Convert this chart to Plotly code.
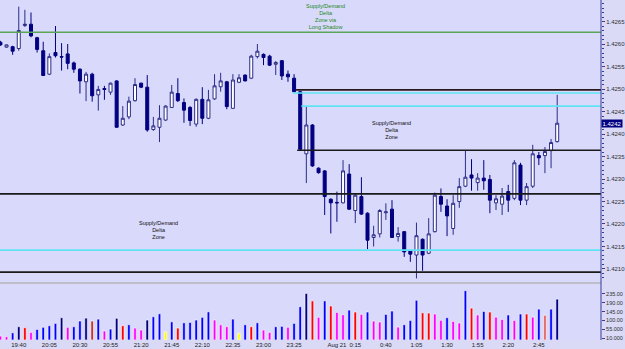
import pandas as pd
import plotly.graph_objects as go
from plotly.subplots import make_subplots

# ---- data ----
times = pd.date_range("2011-08-20 19:25", periods=92, freq="5min")

opens = [1.42604, 1.42593, 1.42594, 1.42590, 1.42641, 1.42644, 1.42614, 1.42585, 1.42533, 1.42581,
         1.42572, 1.42578, 1.42558, 1.42544, 1.42516, 1.42533, 1.42487, 1.42501, 1.42493, 1.42518,
         1.42420, 1.42438, 1.42474, 1.42513, 1.42504, 1.42410, 1.42415, 1.42431, 1.42459, 1.42490,
         1.42470, 1.42459, 1.42422, 1.42477, 1.42435, 1.42478, 1.42505, 1.42516, 1.42457, 1.42515,
         1.42531, 1.42524, 1.42572, 1.42577, 1.42573, 1.42555, 1.42563, 1.42533, 1.42524, 1.42494,
         1.42356, 1.42420, 1.42324, 1.42318, 1.42255, 1.42248, 1.42247, 1.42311, 1.42230, 1.42261,
         1.42224, 1.42170, 1.42178, 1.42225, 1.42233, 1.42172, 1.42183, 1.42141, 1.42131, 1.42166,
         1.42135, 1.42183, 1.42261, 1.42240, 1.42190, 1.42250, 1.42284, 1.42309, 1.42292, 1.42302,
         1.42299, 1.42247, 1.42244, 1.42272, 1.42257, 1.42331, 1.42253, 1.42284, 1.42352, 1.42352,
         1.42363, 1.42383]
highs = [1.42607, 1.42599, 1.42596, 1.42683, 1.42676, 1.42670, 1.42616, 1.42605, 1.42579, 1.42640,
         1.42602, 1.42600, 1.42561, 1.42546, 1.42538, 1.42536, 1.42507, 1.42507, 1.42514, 1.42519,
         1.42462, 1.42483, 1.42524, 1.42514, 1.42531, 1.42438, 1.42464, 1.42464, 1.42509, 1.42524,
         1.42479, 1.42462, 1.42479, 1.42504, 1.42498, 1.42533, 1.42536, 1.42518, 1.42533, 1.42533,
         1.42532, 1.42576, 1.42600, 1.42579, 1.42576, 1.42562, 1.42564, 1.42541, 1.42533, 1.42496,
         1.42462, 1.42422, 1.42326, 1.42320, 1.42257, 1.42272, 1.42342, 1.42333, 1.42267, 1.42304,
         1.42226, 1.42196, 1.42233, 1.42246, 1.42253, 1.42193, 1.42184, 1.42142, 1.42203, 1.42168,
         1.42213, 1.42270, 1.42279, 1.42255, 1.42264, 1.42302, 1.42364, 1.42344, 1.42313, 1.42342,
         1.42309, 1.42264, 1.42280, 1.42287, 1.42342, 1.42336, 1.42291, 1.42376, 1.42360, 1.42371,
         1.42389, 1.42487]
lows = [1.42596, 1.42592, 1.42576, 1.42585, 1.42638, 1.42615, 1.42581, 1.42529, 1.42531, 1.42570,
        1.42541, 1.42544, 1.42536, 1.42490, 1.42473, 1.42472, 1.42452, 1.42476, 1.42487, 1.42414,
        1.42418, 1.42433, 1.42472, 1.42502, 1.42405, 1.42407, 1.42382, 1.42429, 1.42458, 1.42471,
        1.42425, 1.42418, 1.42416, 1.42422, 1.42433, 1.42476, 1.42494, 1.42455, 1.42456, 1.42513,
        1.42517, 1.42522, 1.42568, 1.42553, 1.42551, 1.42531, 1.42520, 1.42516, 1.42493, 1.42364,
        1.42291, 1.42327, 1.42312, 1.42220, 1.42179, 1.42205, 1.42246, 1.42231, 1.42202, 1.42220,
        1.42144, 1.42150, 1.42170, 1.42209, 1.42169, 1.42161, 1.42127, 1.42116, 1.42079, 1.42096,
        1.42133, 1.42181, 1.42227, 1.42173, 1.42176, 1.42236, 1.42282, 1.42274, 1.42274, 1.42276,
        1.42224, 1.42231, 1.42220, 1.42227, 1.42253, 1.42242, 1.42242, 1.42280, 1.42331, 1.42313,
        1.42324, 1.42381]
closes = [1.42598, 1.42598, 1.42584, 1.42630, 1.42644, 1.42618, 1.42588, 1.42530, 1.42572, 1.42574,
          1.42571, 1.42557, 1.42544, 1.42518, 1.42533, 1.42485, 1.42499, 1.42499, 1.42513, 1.42415,
          1.42435, 1.42473, 1.42510, 1.42504, 1.42409, 1.42418, 1.42435, 1.42462, 1.42493, 1.42474,
          1.42453, 1.42430, 1.42477, 1.42435, 1.42476, 1.42507, 1.42518, 1.42461, 1.42520, 1.42525,
          1.42518, 1.42573, 1.42584, 1.42570, 1.42553, 1.42559, 1.42529, 1.42527, 1.42494, 1.42366,
          1.42420, 1.42329, 1.42314, 1.42261, 1.42247, 1.42247, 1.42318, 1.42233, 1.42264, 1.42222,
          1.42164, 1.42176, 1.42230, 1.42227, 1.42170, 1.42179, 1.42138, 1.42133, 1.42174, 1.42131,
          1.42178, 1.42264, 1.42244, 1.42218, 1.42246, 1.42283, 1.42304, 1.42302, 1.42302, 1.42296,
          1.42253, 1.42256, 1.42262, 1.42253, 1.42336, 1.42253, 1.42283, 1.42356, 1.42347, 1.42361,
          1.42381, 1.42424]

volumes = [20, 17, 37, 68, 63, 39, 54, 65, 73, 85,
           114, 65, 68, 97, 112, 97, 107, 46, 56, 111,
           73, 78, 61, 51, 102, 119, 134, 42, 93, 61,
           88, 90, 102, 116, 144, 102, 78, 68, 107, 34,
           78, 68, 88, 51, 39, 68, 70, 65, 85, 170,
           238, 200, 116, 200, 174, 141, 129, 153, 143, 131,
           143, 97, 92, 131, 148, 66, 78, 100, 203, 139,
           138, 133, 100, 114, 95, 87, 252, 163, 128, 146,
           143, 117, 105, 128, 100, 133, 133, 117, 158, 126,
           158, 209]

M, B, N, R, Y, D, S = "#ff00ff", "#0000ff", "#000080", "#ff0000", "#ffff00", "#c03030", "#e06060"
volume_colors = [M, M, B, N, R, M, B, B, B, B,
                 N, M, B, B, N, D, B, M, B, N,
                 R, B, M, M, N, B, B, Y, B, R,
                 B, B, B, B, B, M, M, M, B, Y,
                 B, R, B, M, M, B, B, M, B, B,
                 N, R, M, B, R, M, M, B, R, M,
                 B, M, M, B, B, M, B, B, B, R,
                 R, M, M, B, M, M, B, R, M, B,
                 R, M, M, B, M, B, R, M, B, S,
                 B, N]

# zone lines: level, start bar (None = whole width), colour
zone_levels = [1.42626, 1.42498, 1.42491, 1.42462, 1.42364, 1.42267, 1.42142, 1.42093]
zone_start_bar = [None, 48.3, 47.8, 49.2, 48.5, None, None, None]
zone_colors = ["#5aa55a", "#2a1818", "#5fe3f3", "#5fe3f3", "#1a1a1a", "#1a1a1a", "#5fe3f3", "#1a1a1a"]

price_ticks = [1.4210, 1.4215, 1.4220, 1.4225, 1.4230, 1.4235, 1.4240, 1.4245,
               1.4250, 1.4255, 1.4260, 1.4265, 1.4270]
volume_ticks = [10, 55, 100, 145, 190, 235]
volume_tick_text = ["10.000", "55.000", "100.00", "145.00", "190.00", "235.00"]

tick_labels = ["19:40", "20:05", "20:30", "20:55", "21:20", "21:45", "22:10", "22:35",
               "23:00", "23:25", "Aug 21", "0:15", "0:40", "1:05", "1:30", "1:55", "2:20", "2:45"]
tick_times = ["2011-08-20 19:40", "2011-08-20 20:05", "2011-08-20 20:30", "2011-08-20 20:55",
              "2011-08-20 21:20", "2011-08-20 21:45", "2011-08-20 22:10", "2011-08-20 22:35",
              "2011-08-20 23:00", "2011-08-20 23:25", "2011-08-21 00:00", "2011-08-21 00:15",
              "2011-08-21 00:40", "2011-08-21 01:05", "2011-08-21 01:30", "2011-08-21 01:55",
              "2011-08-21 02:20", "2011-08-21 02:45"]

zone_texts = ["Supply/Demand<br>Delta<br>Zone via<br>Long Shadow",
              "Supply/Demand<br>Delta<br>Zone",
              "Supply/Demand<br>Delta<br>Zone"]

# ---- figure ----
step = pd.Timedelta(minutes=5)
x_start = times[0] - 0.065 * step
x_end = times[0] + 98.16 * step

fig = make_subplots(rows=2, cols=1, shared_xaxes=True, vertical_spacing=0.01)

fig.add_trace(go.Candlestick(
    x=times, open=opens, high=highs, low=lows, close=closes,
    increasing=dict(fillcolor="#ffffff", line=dict(color="#2c2c88", width=1)),
    decreasing=dict(fillcolor="#000080", line=dict(color="#000080", width=1)),
    whiskerwidth=0, showlegend=False, hoverinfo="skip"), row=1, col=1)

fig.add_trace(go.Bar(
    x=times, y=volumes, marker=dict(color=volume_colors, line=dict(color="#ffffff", width=0.6)),
    width=0.42 * step.total_seconds() * 1000, showlegend=False, hoverinfo="skip"), row=2, col=1)

shapes = []
for lvl, sb, col in zip(zone_levels, zone_start_bar, zone_colors):
    if sb is None:
        shapes.append(dict(type="line", xref="x domain", yref="y", x0=0, x1=1, y0=lvl, y1=lvl,
                           line=dict(color=col, width=1.6)))
    else:
        shapes.append(dict(type="line", xref="x", yref="y", x0=times[0] + sb * step, x1=x_end,
                           y0=lvl, y1=lvl, line=dict(color=col, width=1.6)))
# panel separator
shapes.append(dict(type="line", xref="paper", yref="paper", x0=0, x1=1, y0=0.1675, y1=0.1675,
                   line=dict(color="#b4b4bc", width=1.5)))
# continuous right axis line
shapes.append(dict(type="line", xref="paper", yref="paper", x0=1, x1=1, y0=0, y1=1,
                   line=dict(color="#3a3a9a", width=1)))

font_small = dict(family="Liberation Sans", size=5.5)
annotations = [
    dict(xref="paper", yref="paper", x=0.542, y=0.951, text=zone_texts[0], showarrow=False,
         xanchor="center", yanchor="middle",
         font=dict(font_small, color="#1a8a1a"), align="center"),
    dict(xref="paper", yref="paper", x=0.652, y=0.618, text=zone_texts[1], showarrow=False,
         xanchor="center", yanchor="middle",
         font=dict(font_small, color="#101010"), align="center"),
    dict(xref="paper", yref="paper", x=0.263, y=0.325, text=zone_texts[2], showarrow=False,
         xanchor="center", yanchor="middle",
         font=dict(font_small, color="#101010"), align="center"),
    dict(xref="paper", yref="y", x=1, y=closes[-1], xanchor="left", yanchor="middle",
         text="1.4242", showarrow=False,
         font=dict(family="Liberation Sans", size=6, color="#ffffff"), bgcolor="#000080",
         borderpad=0.5),
]

fig.update_layout(
    width=625, height=349,
    margin=dict(l=0, r=16, t=0, b=9),
    paper_bgcolor="#dadaf6", plot_bgcolor="#d9d9fc",
    shapes=shapes, annotations=annotations,
    bargap=0.3,
    xaxis=dict(type="date", range=[x_start, x_end], rangeslider=dict(visible=False),
               showgrid=False, showticklabels=False, zeroline=False),
    xaxis2=dict(type="date", range=[x_start, x_end], showgrid=False, zeroline=False,
                tickvals=tick_times, ticktext=tick_labels, ticks="",
                tickfont=dict(family="Liberation Sans", size=6, color="#202020")),
    yaxis=dict(domain=[0.1706, 1.0], side="right", range=[1.420711, 1.426978],
               tickvals=price_ticks, ticktext=[f"{v:.4f}" for v in price_ticks],
               tickfont=dict(family="Liberation Sans", size=6, color="#303030"),
               ticks="outside", ticklen=3, tickcolor="#3a3a9a",
               minor=dict(ticks="outside", ticklen=2, dtick=0.0001, tickcolor="#3a3a9a"),
               showgrid=False, zeroline=False, showline=False),
    yaxis2=dict(domain=[0.0, 0.1618], side="right", range=[0, 281],
                tickvals=volume_ticks, ticktext=volume_tick_text,
                tickfont=dict(family="Liberation Sans", size=5.5, color="#303030"),
                ticks="outside", ticklen=3, tickcolor="#3a3a9a",
                showgrid=False, zeroline=False, showline=False),
)

fig.write_html("out.html")
